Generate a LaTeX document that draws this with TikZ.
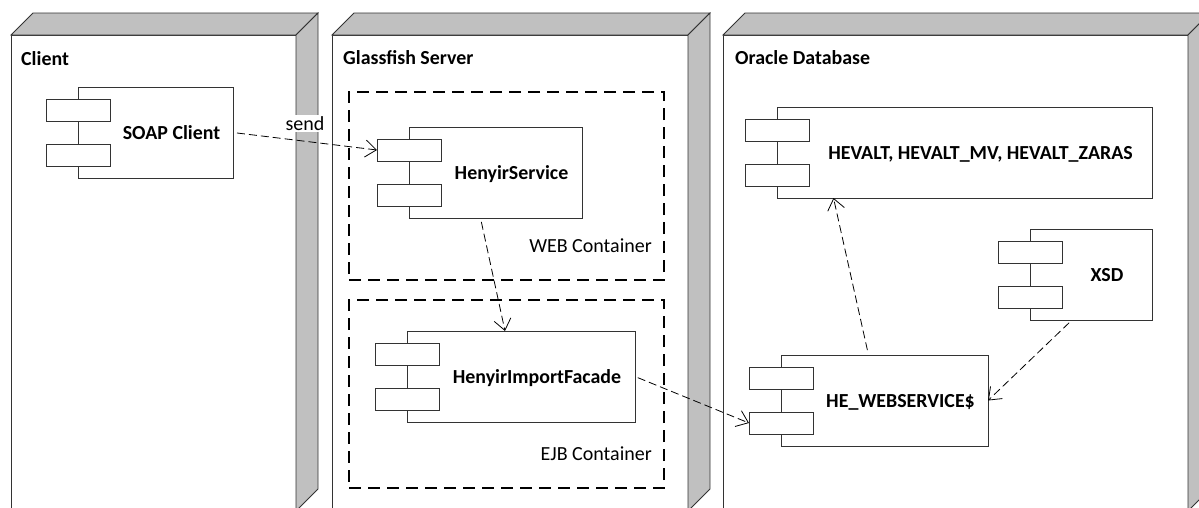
\documentclass[tikz,border=0pt]{standalone}
\usepackage{fontspec}
\setmainfont{Carlito}
\usetikzlibrary{arrows.meta,calc}
\definecolor{panel}{HTML}{C0C0C0}
\definecolor{edge}{HTML}{333333}
\tikzset{
  front/.style={draw=edge, fill=white, line width=0.8pt, inner sep=0pt, outer sep=0pt, anchor=north west},
  side/.style={draw=edge, fill=panel, line width=0.8pt, line join=miter},
  title/.style={font=\bfseries\fontsize{19.9}{22}\selectfont, inner sep=0pt, anchor=base west},
  comp/.style={draw=edge, fill=white, line width=0.8pt, inner sep=0pt, outer sep=0pt, minimum height=91pt, anchor=north west},
  port/.style={draw=edge, fill=white, line width=0.8pt, inner sep=0pt, outer sep=0pt, minimum width=64pt, minimum height=22pt, anchor=north west},
  complabel/.style={font=\bfseries\fontsize{19.9}{22}\selectfont, inner sep=0pt, anchor=base},
  container/.style={draw=black, line width=1.8pt, dash pattern=on 12pt off 7pt, inner sep=0pt, outer sep=0pt, anchor=north west},
  plainlabel/.style={font=\fontsize{20}{22}\selectfont, inner sep=0pt},
  dep/.style={draw=black, line width=0.8pt, dash pattern=on 8pt off 4pt, -{Straight Barb[length=11pt,width=17pt]}}
}
\newcommand\threed[5]{% name, left, top, width, height
  \node[front, minimum width=#4pt, minimum height=#5pt] (#1) at (#2,#3) {};
  \draw[side] (#1.north west) -- ++(22,-22) -- ($(#1.north east)+(22,-22)$) -- (#1.north east) -- cycle;
  \draw[side] (#1.north east) -- ++(22,-22) -- ($(#1.south east)+(22,-22)$) -- (#1.south east) -- cycle;
}
\newcommand\umlcomp[5]{% name, left, top, width, text
  \node[comp, minimum width=#4pt] (#1) at (#2,#3) {};
  \node[port] (#1-p1) at ($(#1.north west)+(-32,12)$) {};
  \node[port] (#1-p2) at ($(#1.north west)+(-32,57)$) {};
  \node[complabel] (#1-t) at ($(#1.west)!0.5!(#1.east)+(16,6.5)$) {#5};
}
\begin{document}
\begin{tikzpicture}[x=1pt,y=-1pt]
\useasboundingbox (0,0) rectangle (1199,507);
\clip (0,0) rectangle (1199,507);
% execution environments
\threed{client}{11}{35}{285}{476}
\threed{glassfish}{332}{35}{356}{476}
\threed{oracle}{723}{35}{465}{476}
\node[title] (clientT) at (21,65) {Client};
\node[title] (glassfishT) at (343,64.5) {Glassfish Server};
\node[title] (oracleT) at (735,64) {Oracle Database};
% containers
\node[container, minimum width=315pt, minimum height=188pt] (web) at (349,92) {};
\node[container, minimum width=315pt, minimum height=188pt] (ejb) at (349,300) {};
\node[plainlabel, anchor=base east] (webT) at (652,252) {WEB Container};
\node[plainlabel, anchor=base east] (ejbT) at (652,460) {EJB Container};
% components
\umlcomp{soap}{78}{87}{155}{SOAP Client}
\umlcomp{hs}{409}{127}{173}{HenyirService}
\umlcomp{fac}{407}{331}{228}{HenyirImportFacade}
\umlcomp{hev}{777}{107}{375}{HEVALT, HEVALT\_MV, HEVALT\_ZARAS}
\umlcomp{xsd}{1030}{229}{122}{XSD}
\umlcomp{hew}{781}{355}{207}{HE\_WEBSERVICE\$}
% label
\node[plainlabel, fill=white, inner sep=1.5pt, anchor=base] (send) at (305,130) {send};
% dependencies
\draw[dep, shorten <=4pt] (soap.east) -- (hs-p1.west);
\draw[dep, shorten <=4pt] ([xshift=-15pt]hs.south) -- ([xshift=-16pt]fac.north);
\draw[dep, shorten <=3pt] (fac.east) -- (hew-p2.west);
\draw[dep, shorten <=5pt] ([xshift=-16pt]hew.north) -- ([xshift=-131pt]hev.south);
\draw[dep, shorten <=4pt] ([xshift=-19pt]xsd.south) -- (hew.east);
\end{tikzpicture}
\end{document}
